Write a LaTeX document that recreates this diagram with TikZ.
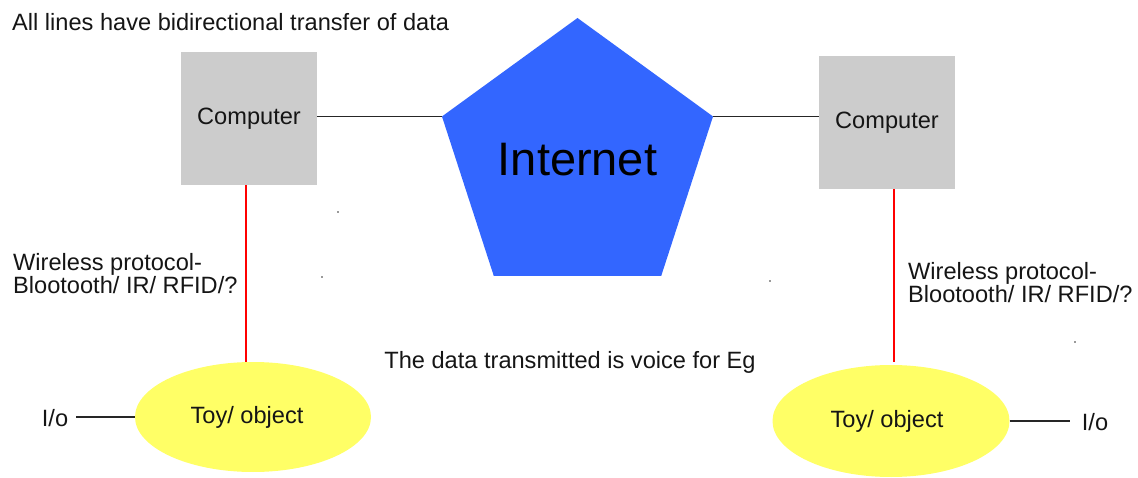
\documentclass[tikz,border=0pt]{standalone}
\usepackage{fontspec}
\setmainfont{Liberation Sans}
\usetikzlibrary{shapes.geometric}
\definecolor{boxgray}{HTML}{CCCCCC}
\definecolor{netblue}{HTML}{3366FF}
\definecolor{toyyellow}{HTML}{FFFF66}
\definecolor{txt}{HTML}{151515}
\begin{document}
\begin{tikzpicture}[x=1pt,y=-1pt,
  every node/.style={text=txt, font=\fontsize{23.6}{23}\selectfont},
  compbox/.style={fill=boxgray, draw=none, minimum width=136pt, minimum height=133pt, inner sep=0pt},
  netshape/.style={regular polygon, regular polygon sides=5, fill=netblue, draw=none, minimum size=285pt, inner sep=0pt, font=\fontsize{47}{47}\selectfont, text=black},
  toy/.style={ellipse, fill=toyyellow, draw=none, inner sep=0pt},
  plain/.style={inner sep=0pt},
  blackline/.style={draw=black!85, line width=1.3pt},
  redline/.style={draw=red, line width=1.3pt}]
\useasboundingbox (0,0) rectangle (1138,478);

\node[plain, anchor=west] (title) at (12,22) {All lines have bidirectional transfer of data};

\node[compbox] (c1) at (249,118.5) {Computer};
\node[compbox] (c2) at (887,122.5) {\raisebox{4pt}{Computer}};
\node[netshape] (inet) at (577.5,160.5) {\raisebox{3pt}{Internet}};

\node[toy, minimum width=236pt, minimum height=110pt] (t1) at (253,417) {\hspace*{-12pt}Toy/ object};
\node[toy, minimum width=237pt, minimum height=112pt] (t2) at (891,421) {\hspace*{-8pt}Toy/ object};

\node[plain, anchor=west, align=left] (w1) at (13,274) {Wireless protocol-\\Blootooth/ IR/ RFID/?};
\node[plain, anchor=west, align=left] (w2) at (908,283) {Wireless protocol-\\Blootooth/ IR/ RFID/?};

\node[plain] (note) at (570,362) {The data transmitted is voice for Eg};

\node[plain] (io1) at (55,418) {I/o};
\node[plain] (io2) at (1095,422) {I/o};
\coordinate (a1) at (76,417);
\coordinate (a2) at (1070,421);

% connectors
\draw[blackline] (inet.corner 2) -- (inet.corner 2 -| c1.east);
\draw[blackline] (inet.corner 5) -- (inet.corner 5 -| c2.west);
\draw[redline] ([xshift=-3pt]c1.south) -- ([xshift=-3pt]c1.south |- t1.north);
\draw[redline] ([xshift=7pt]c2.south) -- ([xshift=7pt,yshift=3pt]c2.south |- t2.north);
\draw[blackline] (a1) -- (t1.west);
\draw[blackline] (t2.east) -- (a2);

% stray dots
\fill[black!80] (338,212) circle (0.8pt);
\fill[black!80] (322,277) circle (0.8pt);
\fill[black!80] (770,281) circle (0.8pt);
\fill[black!80] (1075,342) circle (0.8pt);
\end{tikzpicture}
\end{document}
